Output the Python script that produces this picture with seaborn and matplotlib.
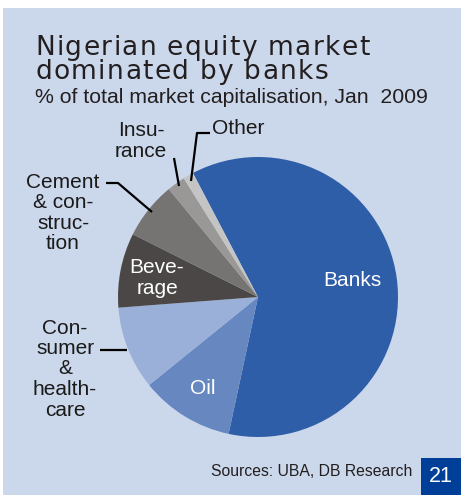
import matplotlib
matplotlib.use('Agg')
import matplotlib.pyplot as plt
from matplotlib.patches import Rectangle
import seaborn as sns

# slice data, clockwise from the top-left edge of Banks
sectors = ['Banks', 'Oil', 'Consumer & healthcare', 'Beverage',
           'Cement & construction', 'Insurance', 'Other']
shares = [61.0, 10.8, 9.6, 8.6, 6.6, 2.1, 1.2]
slice_colors = ['#2f5ea8', '#6787c0', '#9bb0d8', '#4b4746',
                '#767473', '#9a9896', '#c4c4c4']

title_lines = ['Nigerian equity market', 'dominated by banks']
subtitle = '% of total market capitalisation, Jan  2009'
source_note = 'Sources: UBA, DB Research'
page_no = '21'

sns.set_theme(style='white')
plt.rcParams['font.family'] = ['Liberation Sans', 'DejaVu Sans']

W, H = 461, 495
fig = plt.figure(figsize=(W / 100, H / 100), dpi=100, facecolor='white')
ax = fig.add_axes([0, 0, 1, 1])


def py(y):
    # picture rows counted from the top
    return H - y


bg = '#cbd7ea'
ax.add_patch(Rectangle((3, 0), W - 3, H - 8, facecolor=bg, edgecolor='none', zorder=0))

cx, cy, r = 258, py(297), 140
ax.pie(shares, colors=slice_colors, startangle=117.7, counterclock=False,
       center=(cx, cy), radius=r, wedgeprops=dict(linewidth=0), frame=True)
ax.set_xlim(0, W)
ax.set_ylim(0, H)
ax.set_axis_off()


# title: letters spread so the first line is as wide as in the print
def spaced_text(x, y, s, size, track):
    fig.canvas.draw()
    renderer = fig.canvas.get_renderer()
    for ch in s:
        t = ax.text(x, y, ch, fontsize=size, color='#231f20', va='baseline', ha='left',
                    family='DejaVu Sans')
        w = t.get_window_extent(renderer=renderer).width if ch != ' ' else size * 0.3 * 100 / 72
        x += w + track

spaced_text(35, py(55), title_lines[0], 19, 1.4)
spaced_text(35, py(79), title_lines[1], 19, 1.4)
ax.text(35, py(103), subtitle, fontsize=15.3, color='#231f20', va='baseline', ha='left')

lbl = dict(fontsize=15, color='#1a1a1a', ha='center', va='center', linespacing=1.1)
ax.text(352, py(280), 'Banks', **{**lbl, 'color': 'white'})
ax.text(203, py(389), 'Oil', **{**lbl, 'color': 'white'})
ax.text(157, py(278), 'Beve-\nrage', **{**lbl, 'color': 'white'})
ax.text(65, py(369), 'Con-\nsumer\n&\nhealth-\ncare', **lbl)
ax.text(63, py(213), 'Cement\n& con-\nstruc-\ntion', **lbl)
ax.text(141, py(141), 'Insu-\nrance', **lbl)
ax.text(212, py(128), 'Other', **{**lbl, 'ha': 'left'})

line = dict(color='black', lw=1.6, solid_capstyle='butt')
ax.plot([100, 127], [py(350), py(350)], **line)
ax.plot([106, 118, 152], [py(183), py(183), py(212)], **line)
ax.plot([174, 179], [py(158), py(186)], **line)
ax.plot([210, 197, 191], [py(133), py(133), py(181)], **line)

ax.text(412, py(471), source_note, fontsize=11.3, color='#231f20', ha='right', va='center')
ax.add_patch(Rectangle((421, 0), W - 421, H - 458, facecolor='#003f98', edgecolor='none'))
ax.text(441, py(476), page_no, fontsize=15.5, color='white', ha='center', va='center')

fig.savefig('out.png', dpi=100, facecolor='white')
